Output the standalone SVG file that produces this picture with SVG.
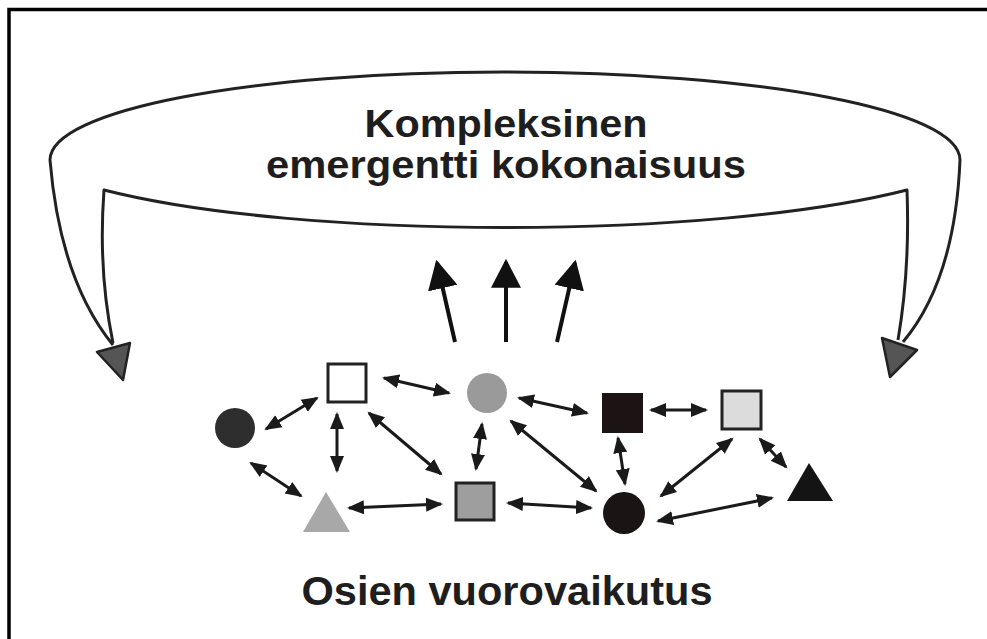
<svg xmlns="http://www.w3.org/2000/svg" width="987" height="639" viewBox="0 0 987 639">
<style>
.lbl{font-family:"Liberation Sans",Arial,sans-serif;font-weight:bold;font-size:39px;fill:#1e1e1e;text-anchor:middle}
.big{font-size:41px}
.bowl{fill:none;stroke:#222;stroke-width:3;stroke-linejoin:round}
.tri{fill:#555;stroke:#222;stroke-width:2.5;stroke-linejoin:round}
.link{stroke:#1a1a1a;stroke-width:3;fill:none;marker-start:url(#ah);marker-end:url(#ah)}
.up{stroke:#111;stroke-width:4;fill:none;marker-end:url(#big)}
.sq{stroke:#222;stroke-width:3}
</style>
<defs>
<marker id="ah" markerUnits="userSpaceOnUse" markerWidth="18" markerHeight="16" refX="15" refY="7" orient="auto-start-reverse" viewBox="0 0 18 14">
<path d="M0,0 L17,7 L0,14 z" fill="#1a1a1a"/>
</marker>
<marker id="big" markerUnits="userSpaceOnUse" markerWidth="30" markerHeight="30" refX="24" refY="14" orient="auto" viewBox="0 0 28 28">
<path d="M0,0 L27,14 L0,28 z" fill="#111"/>
</marker>
</defs>
<rect width="987" height="639" fill="#fff"/>
<polyline points="9,639 9,9.5 987,9.5" fill="none" stroke="#000" stroke-width="3.5"/>

<g id="whole">
<path class="bowl" d="M113,345 Q60,280 50,160 C50,110 250,72 503,72 C760,72 960,110 960,160 Q955,280 903,342"/>
<path class="bowl" d="M113,343 Q98,270 104,190 C300,240 710,240 907,190 Q910,270 898,340"/>
<polygon class="tri" points="97,352 130,343 123,380"/>
<polygon class="tri" points="882,338 917,350 890,377"/>
<text class="lbl" x="506" y="137" textLength="283" lengthAdjust="spacingAndGlyphs">Kompleksinen</text>
<text class="lbl" x="506" y="178" textLength="480" lengthAdjust="spacingAndGlyphs">emergentti kokonaisuus</text>
</g>

<g id="connectors">
<line class="up" x1="455" y1="342" x2="437" y2="263"/>
<line class="up" x1="506" y1="342" x2="506" y2="262"/>
<line class="up" x1="557" y1="342" x2="575" y2="263"/>
<line class="link" x1="266" y1="429" x2="317" y2="398"/>
<line class="link" x1="384" y1="378" x2="449" y2="393"/>
<line class="link" x1="337" y1="414" x2="337" y2="471"/>
<line class="link" x1="369" y1="413" x2="441" y2="474"/>
<line class="link" x1="482" y1="424" x2="476" y2="469"/>
<line class="link" x1="251" y1="463" x2="301" y2="496"/>
<line class="link" x1="349" y1="508" x2="441" y2="504"/>
<line class="link" x1="519" y1="398" x2="587" y2="413"/>
<line class="link" x1="651" y1="410" x2="706" y2="410"/>
<line class="link" x1="511" y1="421" x2="596" y2="491"/>
<line class="link" x1="618" y1="438" x2="625" y2="484"/>
<line class="link" x1="732" y1="439" x2="661" y2="496"/>
<line class="link" x1="760" y1="439" x2="786" y2="467"/>
<line class="link" x1="508" y1="503" x2="591" y2="508"/>
<line class="link" x1="658" y1="521" x2="772" y2="498"/>
</g>

<g id="n-dark-circle"><circle cx="235" cy="428" r="20" fill="#2e2e2e"/></g>
<g id="n-white-square"><rect class="sq" x="328" y="364" width="38" height="38" fill="#fff"/></g>
<g id="n-gray-circle"><circle cx="487" cy="393" r="20" fill="#9a9a9a"/></g>
<g id="n-gray-triangle"><polygon points="303,532 350,532 326,492" fill="#a8a8a8"/></g>
<g id="n-gray-square"><rect class="sq" x="456" y="483" width="38" height="37" fill="#9e9e9e"/></g>
<g id="n-black-square"><rect x="602" y="393" width="41" height="40" fill="#1c1414"/></g>
<g id="n-light-square"><rect class="sq" x="722" y="391" width="39" height="38" fill="#dcdcdc"/></g>
<g id="n-black-circle"><circle cx="624" cy="513" r="21" fill="#1a1414"/></g>
<g id="n-black-triangle"><polygon points="787,501 833,501 809,463" fill="#141414"/></g>

<g id="bottom-label">
<text class="lbl big" x="507" y="605" textLength="411" lengthAdjust="spacingAndGlyphs">Osien vuorovaikutus</text>
</g>
</svg>
